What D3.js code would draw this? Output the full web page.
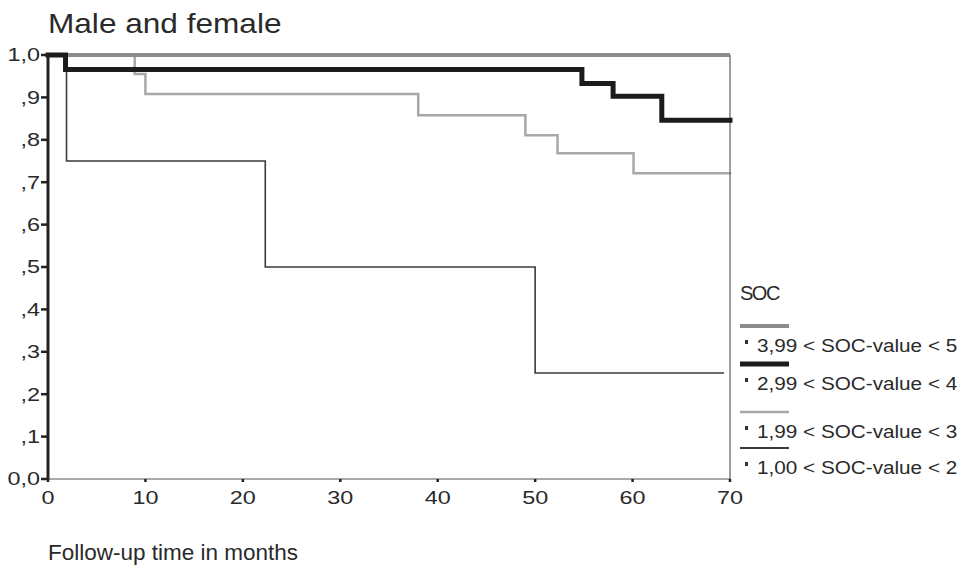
<!DOCTYPE html>
<html>
<head>
<meta charset="utf-8">
<script src="https://cdn.jsdelivr.net/npm/d3@7"></script>
<style>
  html, body { margin: 0; padding: 0; background: #fff; }
  svg text { font-family: "Liberation Sans", Arial, Helvetica, sans-serif; fill: #2a2a2a; }
</style>
</head>
<body>
<svg id="chart" width="966" height="569"></svg>
<script>
// Kaplan-Meier survival curves by SOC group (follow-up in months)
const title = "Male and female";
const xTitle = "Follow-up time in months";
const xTicks = [0, 10, 20, 30, 40, 50, 60, 70];
const yTicks = [0, 0.1, 0.2, 0.3, 0.4, 0.5, 0.6, 0.7, 0.8, 0.9, 1.0];
const yTickLabels = ["0,0", ",1", ",2", ",3", ",4", ",5", ",6", ",7", ",8", ",9", "1,0"];

const groups = ["3,99 < SOC-value < 5", "2,99 < SOC-value < 4", "1,99 < SOC-value < 3", "1,00 < SOC-value < 2"];

// step points: [month, cumulative survival]
const soc4to5 = [[0, 1.0], [70, 1.0], [70, 0.0]];
const soc3to4 = [[0, 1.0], [1.8, 0.966], [54.8, 0.933], [58.0, 0.903], [63.0, 0.846], [70, 0.846]];
const soc2to3 = [[0, 1.0], [8.9, 0.955], [10.0, 0.908], [38.0, 0.858], [49.0, 0.811], [52.3, 0.768], [60.1, 0.721], [70, 0.721]];
const soc1to2 = [[0, 1.0], [1.9, 0.75], [22.3, 0.5], [50.0, 0.25], [69.3, 0.25]];

const series = [soc4to5, soc3to4, soc2to3, soc1to2];
const styles = [
  { color: "#8c8c8c", width: 4 },
  { color: "#1c1c1c", width: 5 },
  { color: "#a8a8a8", width: 2.5 },
  { color: "#3a3a3a", width: 1.6 }
];

const svg = d3.select("#chart");
const x = d3.scaleLinear().domain([0, 70]).range([48, 730]);
const y = d3.scaleLinear().domain([0, 1]).range([479, 55]);

// text helper: horizontally widened lettering
function label(parent, tx, ty, str, size, anchor, sx, dy) {
  const g = parent.append("g").attr("transform", `translate(${tx},${ty}) scale(${sx},1)`);
  g.append("text").attr("text-anchor", anchor || "start").attr("font-size", size)
    .attr("dy", dy || 0).text(str);
  return g;
}

// title
label(svg, 48, 33, title, 27, "start", 1.17);

// curves (drawn bottom group first so thick lines sit on top)
const stepLine = d3.line().x(d => x(d[0])).y(d => y(d[1])).curve(d3.curveStepAfter);
const order = [3, 2, 0, 1];
order.forEach(i => {
  const pts = series[i];
  const st = styles[i];
  if (i === 0) {
    // horizontal run drawn heavy, final drop to zero drawn as a thin rule
    svg.append("path").attr("d", stepLine(pts.slice(0, 2)))
      .attr("fill", "none").attr("stroke", st.color).attr("stroke-width", st.width);
    svg.append("path").attr("d", d3.line().x(d => x(d[0])).y(d => y(d[1]))(pts.slice(1)))
      .attr("fill", "none").attr("stroke", "#6a6a6a").attr("stroke-width", 1.3);
  } else {
    svg.append("path").attr("d", stepLine(pts))
      .attr("fill", "none").attr("stroke", st.color).attr("stroke-width", st.width)
      .attr("stroke-linejoin", "miter").attr("stroke-linecap", "square");
  }
});

// y axis
const yAxis = svg.append("g").attr("transform", "translate(48,0)");
yAxis.append("line").attr("x1", 0).attr("x2", 0).attr("y1", y(1) - 1).attr("y2", y(0) + 1)
  .attr("stroke", "#222").attr("stroke-width", 3);
yTicks.forEach((v, i) => {
  yAxis.append("line").attr("x1", -7).attr("x2", 0).attr("y1", y(v)).attr("y2", y(v))
    .attr("stroke", "#222").attr("stroke-width", 2.5);
  label(yAxis, -8, y(v), yTickLabels[i], 18, "end", 1.3, "0.36em");
});

// x axis
const xAxis = svg.append("g").attr("transform", `translate(0,${y(0)})`);
xAxis.append("line").attr("x1", x(0)).attr("x2", x(70)).attr("y1", 0).attr("y2", 0)
  .attr("stroke", "#555").attr("stroke-width", 1.2);
xTicks.forEach(v => {
  xAxis.append("line").attr("x1", x(v)).attr("x2", x(v)).attr("y1", 0).attr("y2", 3)
    .attr("stroke", "#222").attr("stroke-width", 2.5);
  label(xAxis, x(v), 25, String(v), 18, "middle", 1.3);
});
label(svg, 48, 560, xTitle, 22.5, "start", 1);

// legend
const lg = svg.append("g");
label(lg, 740, 300, "SOC", 20, "start", 1).select("text").attr("letter-spacing", -1.5);
const rowY = [346, 384, 432, 468];
groups.forEach((g, i) => {
  const ry = rowY[i];
  lg.append("line").attr("x1", 740).attr("x2", 789).attr("y1", ry - 20).attr("y2", ry - 20)
    .attr("stroke", styles[i].color).attr("stroke-width", Math.max(styles[i].width, 2));
  lg.append("rect").attr("x", 745).attr("y", ry - 6).attr("width", 3).attr("height", 4)
    .attr("fill", "#333");
  label(lg, 757, ry, g, 18.5, "start", 1.12, "0.35em");
});
</script>
</body>
</html>
